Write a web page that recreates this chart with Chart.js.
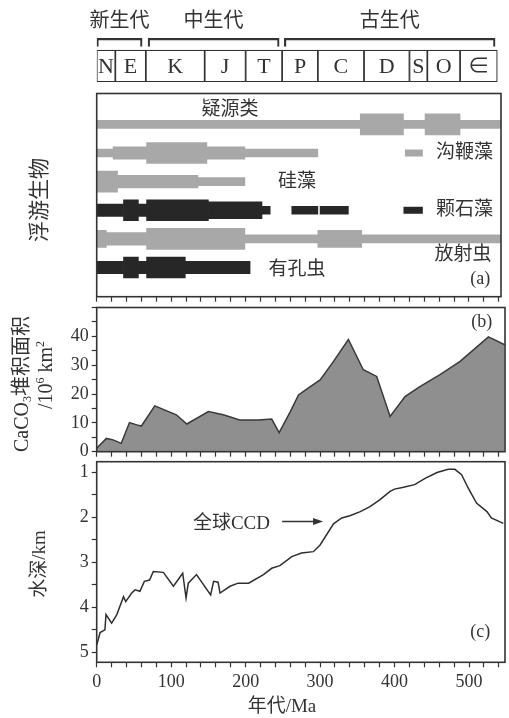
<!DOCTYPE html>
<html>
<head>
<meta charset="utf-8">
<script src="https://cdn.jsdelivr.net/npm/chart.js@4.4.0/dist/chart.umd.min.js"></script>
<style>
  html, body { margin: 0; padding: 0; background: #fff; }
  #wrap { position: relative; width: 509px; height: 718px; }
  #wrap canvas { position: absolute; left: 0; top: 0; }
</style>
</head>
<body>
<div id="wrap">
  <canvas id="scaleChart" width="509" height="718"></canvas>
  <canvas id="planktonChart" width="509" height="718"></canvas>
  <canvas id="caco3Chart" width="509" height="718"></canvas>
  <canvas id="ccdChart" width="509" height="718"></canvas>
</div>
<script>
// geological time scale (Ma)
const periodNames = ['N', 'E', 'K', 'J', 'T', 'P', 'C', 'D', 'S', 'O', '∈'];
const periodStart = [0, 25, 66, 145, 200, 249, 297, 359, 420, 444, 488];
const periodEnd = [25, 66, 145, 200, 249, 297, 359, 420, 444, 488, 538];
const eraNames = ['新生代', '中生代', '古生代'];
const eraStart = [0, 69, 252];
const eraEnd = [61, 245, 535];

// plankton ranges: [from Ma, to Ma, abundance 1-4]
const taxa = ['疑源类', '沟鞭藻', '硅藻', '颗石藻', '放射虫', '有孔虫'];
const acritarchRanges = [[0, 354, 1], [354, 412, 4], [412, 441, 1], [441, 488, 4], [488, 548, 1]];
const dinoRanges = [[0, 22, 1], [22, 67, 2], [67, 148, 4], [148, 199, 2], [199, 297, 1]];
const diatomRanges = [[0, 28, 4], [28, 136, 2], [136, 199, 1]];
const coccoRanges = [[0, 36, 2], [36, 56, 4], [56, 67, 2], [67, 150, 4], [150, 222, 3], [222, 233, 1], [262, 297, 1], [300, 338, 1]];
const radioRanges = [[0, 13, 3], [13, 67, 2], [67, 199, 4], [199, 297, 1], [297, 356, 3], [356, 545, 1]];
const foramRanges = [[0, 36, 2], [36, 56, 4], [56, 67, 2], [67, 119, 4], [119, 206, 2]];

// CaCO3 accumulation area (10^6 km2)
const caco3Age = [0, 13, 22, 33, 44, 54, 60, 78, 107, 121, 150, 170, 192, 217, 235, 245, 260, 271, 282, 300, 318, 338, 358, 376, 394, 414, 434, 461, 488, 526, 548];
const caco3Area = [1.2, 4.6, 4.1, 2.9, 10.1, 9.3, 8.9, 15.9, 12.8, 9.6, 13.9, 12.8, 11, 11, 11.3, 6.6, 13.9, 19.7, 21.7, 24.9, 31.3, 38.9, 28.4, 26.1, 12.2, 19.1, 22.6, 26.7, 31.3, 39.8, 37.1];

// global CCD depth (km)
const ccdAge = [0, 2, 4.5, 11, 12.5, 20, 27, 36, 39, 47, 51.5, 58, 64, 71, 76, 89.5, 103, 115.5, 120, 123, 134, 153, 157, 163, 165.6, 179, 190, 204, 224, 235, 246, 262, 275, 291, 300, 318, 329, 340, 354, 367, 380, 394, 400, 412, 427, 441, 457, 472, 481, 490, 499, 510, 524, 530, 546];
const ccdDepth = [4.83, 4.72, 4.56, 4.5, 4.16, 4.35, 4.16, 3.76, 3.87, 3.68, 3.61, 3.64, 3.42, 3.39, 3.2, 3.22, 3.53, 3.24, 3.79, 3.46, 3.27, 3.72, 3.42, 3.44, 3.68, 3.53, 3.46, 3.46, 3.27, 3.13, 3.07, 2.87, 2.79, 2.76, 2.61, 2.14, 2.01, 1.96, 1.87, 1.76, 1.61, 1.42, 1.37, 1.33, 1.27, 1.13, 1.0, 0.93, 0.93, 1.05, 1.35, 1.68, 1.87, 2.01, 2.13];

const ageLabels = [0, 100, 200, 300, 400, 500];
const areaLabels = [0, 10, 20, 30, 40];
const depthLabels = [1, 2, 3, 4, 5];

// styles
const INK = '#333333';
const LIGHT = '#a8a8a8';
const DARK = '#272727';
const FONT = '"Liberation Serif", "Noto Sans CJK SC", serif';
const LEVEL_PX = [0, 8, 12.5, 17, 21];
const YAXIS_W = 45;   // room for y tick labels
const XAXIS_H = 30;   // room for x tick labels

function baseOptions(l, t, r, b) {
    return {
        responsive: false,
        animation: false,
        events: [],
        layout: { padding: { left: l, top: t, right: 509 - r, bottom: 718 - b } },
        plugins: { legend: { display: false }, tooltip: { enabled: false } }
    };
}

function ageAxis(max, labelled) {
    return {
        type: 'linear', position: 'bottom', min: 0, max: max,
        afterFit: s => { s.height = labelled ? XAXIS_H : 0; },
        border: { display: false },
        grid: { drawOnChartArea: false, tickLength: 5, tickColor: INK, tickWidth: 1.2 },
        ticks: {
            stepSize: 20, includeBounds: false, autoSkip: false, maxRotation: 0, minRotation: 0,
            padding: 4, color: INK, font: { family: FONT, size: 18 },
            callback: v => (labelled && ageLabels.includes(v)) ? String(v) : ''
        }
    };
}

function valueAxis(min, max, step, labels, reverse) {
    return {
        type: 'linear', min: min, max: max, reverse: reverse,
        afterFit: s => { s.width = YAXIS_W; },
        border: { display: false },
        grid: { drawOnChartArea: false, tickLength: 5, tickColor: INK, tickWidth: 1.2 },
        ticks: {
            stepSize: step, includeBounds: false, autoSkip: false, padding: 3,
            color: INK, font: { family: FONT, size: 18 },
            callback: v => labels.includes(v) ? String(v) : ''
        }
    };
}

// text made of runs; small runs are raised or lowered (sub/superscripts)
function drawRuns(ctx, runs, size) {
    const fonts = runs.map(r => (r[1] ? Math.round(size * 0.6) : size) + 'px ' + FONT);
    const widths = runs.map((r, i) => { ctx.font = fonts[i]; return ctx.measureText(r[0]).width; });
    let x = -widths.reduce((s, w) => s + w, 0) / 2;
    ctx.textAlign = 'left';
    runs.forEach((r, i) => {
        ctx.font = fonts[i];
        ctx.fillText(r[0], x, r[1] * size);
        x += widths[i];
    });
}

// frame, notes, swatches, arrows and titles for one panel
function makeDecor(cfg) {
    return {
        id: 'decor',
        afterDraw(chart) {
            const ctx = chart.ctx, xs = chart.scales.x, ys = chart.scales.y, a = chart.chartArea;
            ctx.save();
            ctx.strokeStyle = INK;
            ctx.lineWidth = 1.6;
            ctx.strokeRect(a.left, a.top, a.right - a.left, a.bottom - a.top);
            (cfg.swatches || []).forEach(s => {
                const x0 = xs.getPixelForValue(s.from), x1 = xs.getPixelForValue(s.to), y = ys.getPixelForValue(s.row);
                ctx.fillStyle = s.color;
                ctx.fillRect(x0, y - 3.5, x1 - x0, 7);
            });
            ctx.fillStyle = INK;
            ctx.textAlign = 'center';
            ctx.textBaseline = 'middle';
            (cfg.notes || []).forEach(n => {
                ctx.font = (n.size || 19) + 'px ' + FONT;
                ctx.fillText(n.text, xs.getPixelForValue(n.x), ys.getPixelForValue(n.y));
            });
            (cfg.arrows || []).forEach(w => {
                const x0 = xs.getPixelForValue(w.from), x1 = xs.getPixelForValue(w.to), y = ys.getPixelForValue(w.at);
                ctx.lineWidth = 1.5;
                ctx.beginPath(); ctx.moveTo(x0, y); ctx.lineTo(x1 - 6, y); ctx.stroke();
                ctx.beginPath(); ctx.moveTo(x1, y); ctx.lineTo(x1 - 10, y - 3.5); ctx.lineTo(x1 - 10, y + 3.5); ctx.closePath(); ctx.fill();
            });
            (cfg.titles || []).forEach(t => {
                ctx.save();
                ctx.translate(t.x, t.y);
                if (t.rotate) ctx.rotate(-Math.PI / 2);
                drawRuns(ctx, t.runs, t.size);
                ctx.restore();
            });
            ctx.restore();
        }
    };
}

// time scale strip labels
const scaleLabels = {
    id: 'scaleLabels',
    afterDraw(chart) {
        const ctx = chart.ctx, xs = chart.scales.x, ys = chart.scales.y;
        ctx.save();
        ctx.fillStyle = INK;
        ctx.textAlign = 'center';
        ctx.textBaseline = 'middle';
        ctx.font = '22px ' + FONT;
        periodNames.forEach((p, i) => {
            ctx.fillText(p, xs.getPixelForValue((periodStart[i] + periodEnd[i]) / 2), ys.getPixelForValue(0) + 1);
        });
        ctx.font = '20px ' + FONT;
        eraNames.forEach((e, i) => {
            ctx.fillText(e, xs.getPixelForValue((eraStart[i] + eraEnd[i]) / 2), ys.getPixelForValue(1) - 21);
        });
        ctx.restore();
    }
};

new Chart(document.getElementById('scaleChart'), {
    type: 'bar',
    data: {
        datasets: [
            {
                data: periodNames.map((p, i) => ({ x: [periodStart[i], periodEnd[i]], y: 0 })),
                backgroundColor: '#ffffff', borderColor: INK, borderWidth: 1.2, borderSkipped: false,
                barThickness: 31.7, grouped: false
            },
            {
                data: eraNames.map((e, i) => ({ x: [eraStart[i], eraEnd[i]], y: 1 })),
                backgroundColor: 'rgba(0,0,0,0)', borderColor: INK, borderWidth: 1.5, borderSkipped: 'bottom',
                barThickness: 8.4, grouped: false
            }
        ]
    },
    options: Object.assign(baseOptions(96.7, 7.4, 505, 89.3), {
        indexAxis: 'y',
        scales: {
            x: { type: 'linear', min: 0, max: 548.3, display: false },
            y: { type: 'linear', min: -1, max: 2.5, offset: false, display: false }
        }
    }),
    plugins: [scaleLabels]
});

// (a) plankton ranges
const taxonRanges = [acritarchRanges, dinoRanges, diatomRanges, coccoRanges, radioRanges, foramRanges];
const taxonColor = [LIGHT, LIGHT, LIGHT, DARK, LIGHT, DARK];
const planktonSets = [];
taxonRanges.forEach((ranges, row) => {
    ranges.forEach(r => planktonSets.push({
        data: [{ x: [r[0], r[1]], y: row }],
        backgroundColor: taxonColor[row],
        borderWidth: 0,
        borderSkipped: false,
        barThickness: LEVEL_PX[r[2]],
        grouped: false
    }));
});

const planktonOpts = baseOptions(96.7, 93.5, 501, 296.7);
planktonOpts.indexAxis = 'y';
planktonOpts.scales = {
    x: ageAxis(543, false),
    y: { type: 'linear', min: -1.08, max: 6.02, reverse: true, offset: false, display: false }
};
new Chart(document.getElementById('planktonChart'), {
    type: 'bar',
    data: { datasets: planktonSets },
    options: planktonOpts,
    plugins: [makeDecor({
        swatches: [
            { from: 414, to: 438, row: 1, color: LIGHT },
            { from: 412, to: 438, row: 3, color: DARK }
        ],
        notes: [
            { text: taxa[0], x: 179, y: -0.5 },
            { text: taxa[1], x: 494, y: 1 },
            { text: taxa[2], x: 269, y: 2 },
            { text: taxa[3], x: 494, y: 3 },
            { text: taxa[4], x: 492, y: 4.55 },
            { text: taxa[5], x: 269, y: 5.08 },
            { text: '(a)', x: 515, y: 5.4, size: 18 }
        ],
        titles: [{ runs: [['浮游生物', 0]], x: 40, y: 200, rotate: true, size: 21 }]
    })]
});

// (b) CaCO3 accumulation area
const caco3Opts = baseOptions(96.7 - YAXIS_W, 307.5, 505, 451.7);
caco3Opts.scales = {
    x: ageAxis(548.3, false),
    y: valueAxis(0, 50, 5, areaLabels, false)
};
new Chart(document.getElementById('caco3Chart'), {
    type: 'line',
    data: {
        datasets: [{
            data: caco3Age.map((a, i) => ({ x: a, y: caco3Area[i] })),
            borderColor: '#3a3a3a', borderWidth: 1.5, backgroundColor: '#8f8f8f',
            fill: 'origin', pointRadius: 0, tension: 0
        }]
    },
    options: caco3Opts,
    plugins: [makeDecor({
        notes: [{ text: '(b)', x: 517, y: 44.8, size: 18 }],
        titles: [
            { runs: [['CaCO', 0], ['3', 0.25], ['堆积面积', 0]], x: 23, y: 384, rotate: true, size: 20 },
            { runs: [['/10', 0], ['6', -0.3], [' km', 0], ['2', -0.3]], x: 47, y: 375, rotate: true, size: 20 }
        ]
    })]
});

// (c) global CCD
const ccdOpts = baseOptions(96.7 - YAXIS_W, 461.7, 505, 662.3 + XAXIS_H);
ccdOpts.scales = {
    x: ageAxis(548.3, true),
    y: valueAxis(0.76, 5.22, 0.5, depthLabels, true)
};
new Chart(document.getElementById('ccdChart'), {
    type: 'line',
    data: {
        datasets: [{
            data: ccdAge.map((a, i) => ({ x: a, y: ccdDepth[i] })),
            borderColor: '#2e2e2e', borderWidth: 1.5, fill: false, pointRadius: 0, tension: 0
        }]
    },
    options: ccdOpts,
    plugins: [makeDecor({
        notes: [
            { text: '全球CCD', x: 181, y: 2.14 },
            { text: '(c)', x: 515, y: 4.56, size: 18 }
        ],
        arrows: [{ from: 249, to: 304, at: 2.09 }],
        titles: [
            { runs: [['水深/km', 0]], x: 40, y: 564, rotate: true, size: 19 },
            { runs: [['年代/Ma', 0]], x: 282, y: 707, rotate: false, size: 19 }
        ]
    })]
});
</script>
</body>
</html>
